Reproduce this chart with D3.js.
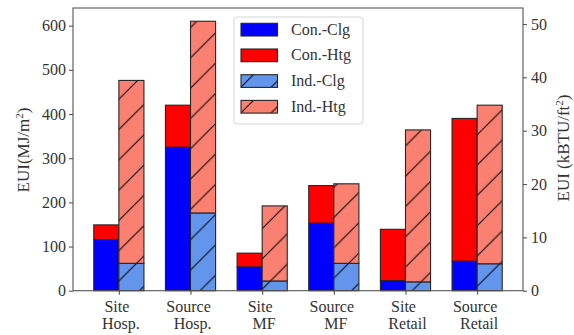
<!DOCTYPE html>
<html>
<head>
<meta charset="utf-8">
<script src="https://cdn.jsdelivr.net/npm/d3@7"></script>
<style>
  body { margin: 0; background: #fff; }
  svg text { font-family: "Liberation Serif", "Times New Roman", serif; white-space: pre; }
</style>
</head>
<body>
<div id="chart"></div>
<script>
// categories (two line tick labels)
var categories = [
  ["Site ", " Hosp."],
  ["Source ", " Hosp."],
  ["Site ", " MF"],
  ["Source ", " MF"],
  ["Site ", " Retail"],
  ["Source ", " Retail"]
];

// EUI values in MJ/m2
var conClg = [116, 325, 54, 153, 23, 67];
var conHtg = [33, 95, 31, 85, 116, 323];
var indClg = [62, 176, 22, 62, 20, 61];
var indHtg = [414, 434, 170, 180, 344, 359];

var leftTicks = [0, 100, 200, 300, 400, 500, 600];
var rightTicks = [0, 10, 20, 30, 40, 50];
var legendNames = ["Con.-Clg", "Con.-Htg", "Ind.-Clg", "Ind.-Htg"];

var svgWidth = 574;
var svgHeight = 335;
var margin = { top: 8, right: 50, bottom: 44, left: 73 };
var serif = "Liberation Serif, Times New Roman, serif";

var svg = d3.select("#chart")
    .append("svg")
    .attr("width", svgWidth)
    .attr("height", svgHeight)
    .attr("font-family", serif);

var x = d3.scaleLinear()
    .domain([-0.64, 5.64])
    .range([margin.left, svgWidth - margin.right - 1]);

var yLeft = d3.scaleLinear()
    .domain([0, 640])
    .range([290.7, margin.top]);

var yRight = d3.scaleLinear()
    .domain([0, 53])
    .range([290.7, margin.top]);

var barW = 0.35;
var edge = "#262626";

// hatch patterns for the indirect bars
var defs = svg.append("defs");
function hatch(id, fill) {
  var p = 30.3;
  var pat = defs.append("pattern")
      .attr("id", id)
      .attr("patternUnits", "userSpaceOnUse")
      .attr("x", 6).attr("y", 0)
      .attr("width", p).attr("height", p);
  pat.append("rect").attr("width", p).attr("height", p).attr("fill", fill);
  pat.append("path")
      .attr("d", `M-2,${p + 2}L${p + 2},-2 M-2,2L2,-2 M${p - 2},${p + 2}L${p + 2},${p - 2}`)
      .attr("stroke", "#000")
      .attr("stroke-width", 1);
}
hatch("hBlue", "#6495ed");
hatch("hSalmon", "#fa8072");

var fills = ["#0000ff", "#ff0000", "url(#hBlue)", "url(#hSalmon)"];

// Stack per bar: values, baseline, offset, fill
var layers = [
  { vals: conClg, base: conClg.map(() => 0), off: -barW / 2, fill: fills[0] },
  { vals: conHtg, base: conClg, off: -barW / 2, fill: fills[1] },
  { vals: indClg, base: indClg.map(() => 0), off: barW / 2, fill: fills[2] },
  { vals: indHtg, base: indClg, off: barW / 2, fill: fills[3] }
];

var plot = svg.append("g");
layers.forEach(function(layer) {
  plot.selectAll(null)
    .data(layer.vals)
    .enter()
    .append("rect")
    .attr("x", (d, i) => x(i + layer.off - barW / 2))
    .attr("width", x(barW) - x(0))
    .attr("y", (d, i) => yLeft(layer.base[i] + d))
    .attr("height", (d, i) => yLeft(layer.base[i]) - yLeft(layer.base[i] + d))
    .attr("fill", layer.fill)
    .attr("stroke", edge)
    .attr("stroke-width", 1.1);
});

// frame
var x0 = x.range()[0], x1 = x.range()[1];
svg.append("rect")
    .attr("x", x0).attr("y", margin.top)
    .attr("width", x1 - x0).attr("height", yLeft(0) - margin.top)
    .attr("fill", "none")
    .attr("stroke", "#555")
    .attr("stroke-width", 1.1);

// axes
var leftAxis = d3.axisLeft(yLeft).tickValues(leftTicks).tickSize(4).tickPadding(3).tickSizeOuter(0);
var rightAxis = d3.axisRight(yRight).tickValues(rightTicks).tickSize(4).tickPadding(4).tickSizeOuter(0);
var bottomAxis = d3.axisBottom(x).tickValues(d3.range(categories.length)).tickSize(4).tickFormat("").tickSizeOuter(0);

function style(g) {
  g.attr("font-family", serif).attr("font-size", 16);
  g.select(".domain").remove();
  g.selectAll(".tick line").attr("stroke", "#555").attr("stroke-width", 1.1);
  g.selectAll(".tick text").attr("fill", "#333").attr("font-family", serif).style("font-size", "16px");
}

svg.append("g").attr("transform", `translate(${x0},0)`).call(leftAxis).call(style);
svg.append("g").attr("transform", `translate(${x1},0)`).call(rightAxis).call(style);
svg.append("g").attr("transform", `translate(0,${yLeft(0)})`).call(bottomAxis).call(style);

// two-line category labels
var xl = svg.append("g")
    .selectAll(null)
    .data(categories)
    .enter()
    .append("text")
    .attr("text-anchor", "middle")
    .attr("fill", "#333")
    .style("font-size", "16px");
xl.append("tspan").attr("x", (d, i) => x(i)).attr("y", 312).text(d => d[0]);
xl.append("tspan").attr("x", (d, i) => x(i)).attr("y", 329).text(d => d[1]);

// axis titles
var leftTitle = svg.append("text")
    .attr("transform", "translate(29,150) rotate(-90)")
    .attr("text-anchor", "middle")
    .attr("fill", "#333")
    .style("font-size", "17px");
leftTitle.append("tspan").text("EUI(MJ/m");
leftTitle.append("tspan").attr("dy", -6).style("font-size", "11px").text("2");
leftTitle.append("tspan").attr("dy", 6).text(")");

var rightTitle = svg.append("text")
    .attr("transform", "translate(569,148) rotate(-90)")
    .attr("text-anchor", "middle")
    .attr("fill", "#333")
    .style("font-size", "17px");
rightTitle.append("tspan").text("EUI (kBTU/ft");
rightTitle.append("tspan").attr("dy", -6).style("font-size", "11px").text("2");
rightTitle.append("tspan").attr("dy", 6).text(")");

// legend
var legend = svg.append("g");
legend.append("rect")
    .attr("x", 234).attr("y", 17)
    .attr("width", 129).attr("height", 107)
    .attr("rx", 3)
    .attr("fill", "#fff")
    .attr("fill-opacity", 0.9)
    .attr("stroke", "#d5d5d5");

var items = legend.selectAll(null)
    .data(legendNames)
    .enter()
    .append("g")
    .attr("transform", (d, i) => `translate(241,${29.7 + i * 25.7})`);
items.append("rect")
    .attr("x", 0).attr("y", -6.4)
    .attr("width", 36.5).attr("height", 12.7)
    .attr("fill", (d, i) => fills[i])
    .attr("stroke", edge)
    .attr("stroke-width", 1.1);
items.append("text")
    .attr("x", 50).attr("y", 5)
    .attr("fill", "#333")
    .style("font-size", "16px")
    .text(d => d);
</script>
</body>
</html>
